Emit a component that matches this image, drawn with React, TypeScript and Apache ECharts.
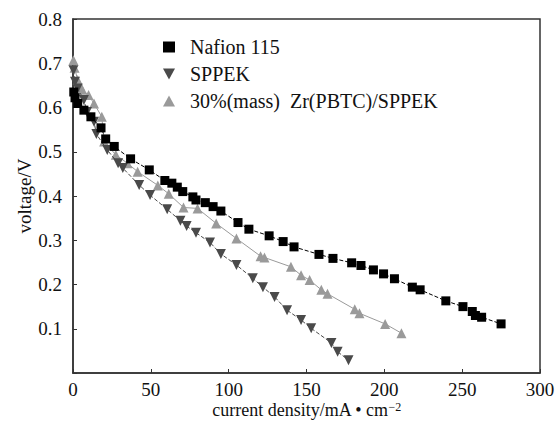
import React, { useEffect, useRef } from "react";
import * as echarts from "echarts";

const seriesNames = ["Nafion 115", "SPPEK", "30%(mass)  Zr(PBTC)/SPPEK"];

const nafionX = [0.5, 1.3, 3, 7, 11.5, 18, 21, 26.5, 37, 49, 59, 63.5, 67, 70.5, 77, 79, 85, 90, 95, 106, 113, 126, 135, 142, 158, 167, 179, 185, 193, 199.5, 206.5, 218, 223, 239.5, 250.5, 256.5, 258.5, 262.5, 275];
const nafionY = [0.635, 0.622, 0.609, 0.594, 0.579, 0.554, 0.529, 0.512, 0.484, 0.459, 0.435, 0.429, 0.42, 0.41, 0.398, 0.391, 0.385, 0.376, 0.366, 0.34, 0.325, 0.31, 0.297, 0.285, 0.268, 0.259, 0.249, 0.243, 0.233, 0.224, 0.213, 0.194, 0.188, 0.163, 0.15, 0.139, 0.13, 0.126, 0.111];

const sppekX = [0.3, 1.3, 3, 7, 9, 13.5, 15, 22, 29, 32, 42.5, 49.5, 60.5, 69, 73, 79, 88, 95, 105, 115.5, 122, 129.5, 137.5, 146.5, 153, 166, 170, 177];
const sppekY = [0.684, 0.658, 0.643, 0.617, 0.59, 0.568, 0.54, 0.504, 0.474, 0.463, 0.425, 0.402, 0.37, 0.344, 0.332, 0.317, 0.295, 0.269, 0.244, 0.214, 0.194, 0.172, 0.142, 0.12, 0.101, 0.068, 0.048, 0.029];

const compX = [0.3, 1, 3, 4.5, 6, 10, 13.5, 18.5, 20, 27.5, 35, 41.5, 54.5, 61.5, 71, 80, 92, 105, 120.5, 123, 140, 146.5, 152, 159.5, 163.5, 181, 184, 200.5, 211];
const compY = [0.707, 0.69, 0.662, 0.649, 0.64, 0.628, 0.609, 0.579, 0.523, 0.493, 0.474, 0.455, 0.424, 0.405, 0.374, 0.372, 0.338, 0.304, 0.264, 0.261, 0.24, 0.221, 0.21, 0.188, 0.179, 0.144, 0.135, 0.111, 0.09];

const xTicks = { min: 0, max: 300, interval: 50 };
const yTicks = { min: 0, max: 0.8, interval: 0.1 };

const zip = (xs: number[], ys: number[]) => xs.map((x, i) => [x, ys[i]]);

const FONT = "'Times New Roman', 'Liberation Serif', serif";
const downTri = "path://M0,0 L10,0 L5,9 Z";
const AX = "#333";

export default function App() {
  const ref = useRef<HTMLDivElement>(null);
  useEffect(() => {
    if (!ref.current) return;
    const chart = echarts.init(ref.current, null, { renderer: "svg" });
    const label = { fontFamily: FONT, fontSize: 19, color: "#111" };
    chart.setOption({
      animation: false,
      backgroundColor: "#fff",
      textStyle: { fontFamily: FONT, color: "#111" },
      grid: {
        left: 73,
        right: 18,
        top: 19,
        bottom: 49,
        outerBoundsMode: "none",
        containLabel: false,
        show: true,
        borderWidth: 1.5,
        borderColor: AX,
        backgroundColor: "transparent",
      },
      legend: {
        orient: "vertical",
        left: 158,
        top: 32,
        itemGap: 7,
        itemWidth: 12,
        itemHeight: 11,
        textStyle: { ...label, fontSize: 20, padding: [0, 0, 0, 10] },
        data: [
          { name: seriesNames[0], icon: "rect" },
          { name: seriesNames[1], icon: downTri },
          { name: seriesNames[2], icon: "triangle" },
        ],
      },
      xAxis: {
        type: "value",
        min: xTicks.min,
        max: xTicks.max,
        interval: xTicks.interval,
        name: "current density/mA • cm{sup|−2}",
        nameLocation: "middle",
        nameGap: 28,
        nameMoveOverlap: false,
        nameTextStyle: {
          ...label,
          fontSize: 18,
          lineHeight: 18,
          rich: { sup: { fontFamily: FONT, fontSize: 12, lineHeight: 18, verticalAlign: "top", color: "#111" } },
        },
        splitLine: { show: false },
        axisLine: { onZero: false, lineStyle: { color: AX, width: 1.5 } },
        axisTick: { inside: true, length: 4, lineStyle: { color: AX } },
        axisLabel: { ...label, lineHeight: 19, margin: 7 },
      },
      yAxis: {
        type: "value",
        min: yTicks.min,
        max: yTicks.max,
        interval: yTicks.interval,
        name: "voltage/V",
        nameLocation: "middle",
        nameGap: 39,
        nameMoveOverlap: false,
        nameTextStyle: label,
        splitLine: { show: false },
        axisLine: { onZero: false, lineStyle: { color: AX, width: 1.5 } },
        axisTick: { inside: true, length: 4, lineStyle: { color: AX } },
        axisLabel: {
          ...label,
          margin: 11,
          formatter: (v: number) => (v === 0 ? "" : v.toFixed(1)),
        },
      },
      series: [
        {
          name: seriesNames[0],
          type: "line",
          data: zip(nafionX, nafionY),
          symbol: "rect",
          symbolSize: 9,
          itemStyle: { color: "#000" },
          lineStyle: { color: "#000", width: 1, type: [4, 2] },
          z: 3,
        },
        {
          name: seriesNames[1],
          type: "line",
          data: zip(sppekX, sppekY),
          symbol: "triangle",
          symbolRotate: 180,
          symbolSize: 10,
          itemStyle: { color: "#4a4a4a" },
          lineStyle: { color: "#4a4a4a", width: 1, type: [4, 2] },
          z: 2,
        },
        {
          name: seriesNames[2],
          type: "line",
          data: zip(compX, compY),
          symbol: "triangle",
          symbolSize: 10,
          itemStyle: { color: "#9a9a9a" },
          lineStyle: { color: "#9a9a9a", width: 1 },
          z: 1,
        },
      ],
    });
    return () => chart.dispose();
  }, []);
  return (
    <div
      ref={ref}
      style={{ position: "absolute", left: 0, top: 0, width: 558, height: 422 }}
    />
  );
}
